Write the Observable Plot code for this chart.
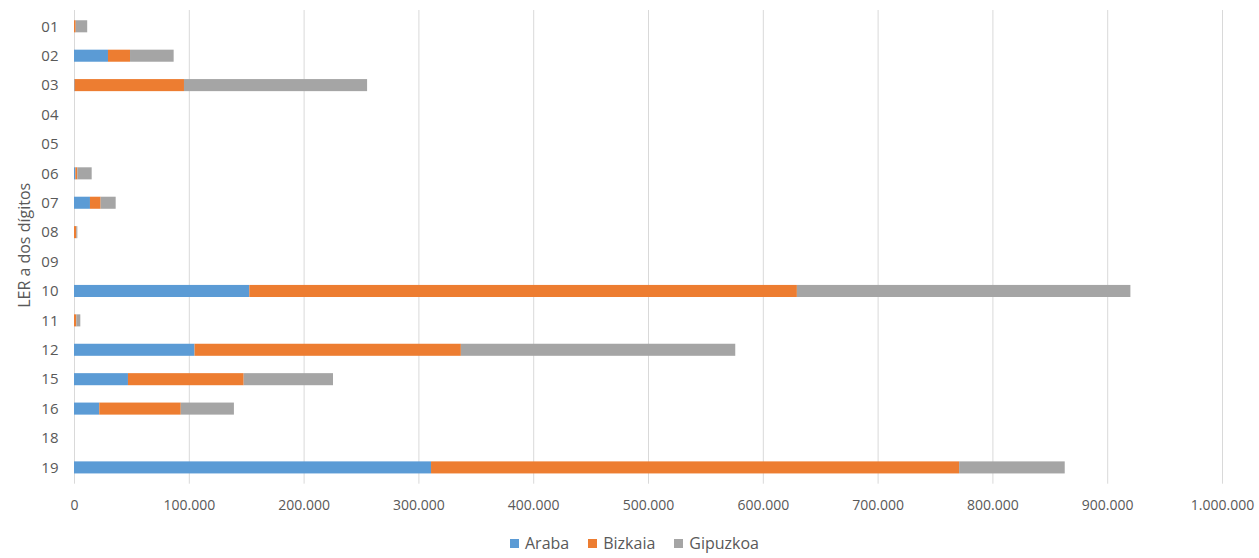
<!DOCTYPE html>
<html>
<head>
<meta charset="utf-8">
<script src="https://cdn.jsdelivr.net/npm/d3@7"></script>
<script src="https://cdn.jsdelivr.net/npm/@observablehq/plot@0.6"></script>
<style>
  body { margin: 0; background: #fff; font-family: "Open Sans", sans-serif; }
  #legend { display: flex; justify-content: center; align-items: center; gap: 19px; height: 38px; font-size: 16px; color: #595959; padding-left: 10px; padding-top: 8px; box-sizing: border-box; }
  #legend span.item { display: inline-flex; align-items: center; gap: 6px; }
  #legend span.sw { width: 9px; height: 9px; display: inline-block; }
</style>
</head>
<body>
<div id="chart"></div>
<div id="legend"></div>
<script>
const categories = ["01","02","03","04","05","06","07","08","09","10","11","12","15","16","18","19"];
const series = ["Araba", "Bizkaia", "Gipuzkoa"];
const colors = ["#5b9bd5", "#ed7d31", "#a5a5a5"];
const araba    = [0, 29600, 500, 0, 0, 1200, 13900, 0, 0, 152700, 0, 105000, 47000, 22000, 0, 311000];
const bizkaia  = [1500, 19200, 95300, 0, 0, 1700, 9300, 2000, 0, 477000, 2000, 232000, 100800, 71000, 0, 460000];
const gipuzkoa = [10000, 38000, 159500, 0, 0, 12500, 13100, 900, 0, 290500, 3500, 239000, 77800, 46300, 0, 92000];
const xTicks = [0, 100000, 200000, 300000, 400000, 500000, 600000, 700000, 800000, 900000, 1000000];

const values = [araba, bizkaia, gipuzkoa];
const data = [];
series.forEach((s, si) => categories.forEach((c, ci) => data.push({ler: c, prov: s, value: values[si][ci]})));

const fmt = d3.formatLocale({decimal: ",", thousands: ".", grouping: [3], currency: ["", "€"]}).format(",");

const chart = Plot.plot({
  width: 1259,
  height: 520,
  marginLeft: 74,
  marginRight: 37,
  marginTop: 10,
  marginBottom: 36.3,
  style: {fontFamily: "Open Sans, sans-serif", fontSize: "14px", color: "#595959", background: "#fff"},
  x: {domain: [0, 1000000], ticks: xTicks, tickFormat: fmt, label: null, tickSize: 0},
  y: {domain: categories, paddingInner: 0.59, paddingOuter: 0.349, round: false, label: null, tickSize: 0},
  color: {domain: series, range: colors},
  marks: [
    Plot.gridX(xTicks, {stroke: "#d9d9d9", strokeOpacity: 1}),
    Plot.barX(data, {y: "ler", x: "value", fill: "prov", order: series}),
    Plot.axisX({ticks: xTicks, tickFormat: fmt, tickSize: 0, tickPadding: 15.5, label: null, fontSize: 14}),
    Plot.axisY({tickSize: 0, tickPadding: 16, label: null, fontSize: 15}),
    Plot.text(["LER a dos dígitos"], {frameAnchor: "left", textAnchor: "middle", dx: -50, dy: -2, rotate: -90, fontSize: 16, fill: "#595959"})
  ]
});
document.getElementById("chart").appendChild(chart);

const legend = document.getElementById("legend");
series.forEach((s, i) => {
  const it = document.createElement("span");
  it.className = "item";
  it.innerHTML = `<span class="sw" style="background:${colors[i]}"></span>${s}`;
  legend.appendChild(it);
});
</script>
</body>
</html>
